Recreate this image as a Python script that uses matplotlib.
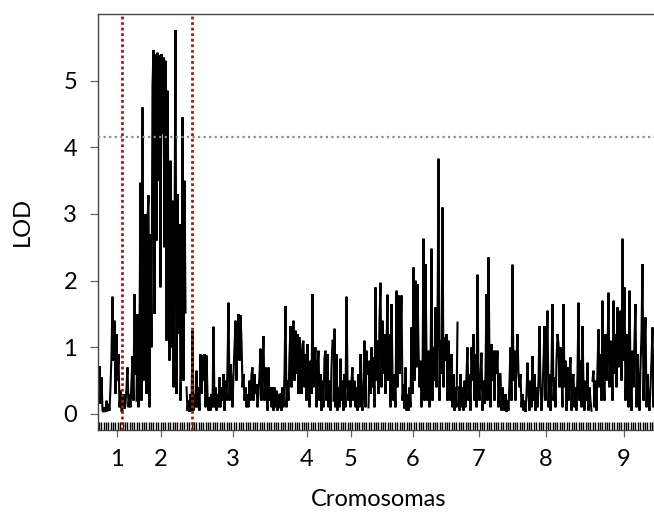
import numpy as np
import matplotlib
matplotlib.use("Agg")
import matplotlib.pyplot as plt

# LOD scan, one value per scan position, chromosome by chromosome
chrom_names = ["1", "2", "3", "4", "5", "6", "7", "8", "9"]
chrom_len = [38, 50, 94, 53, 35, 90, 42, 92, 64]
marker_counts = [16, 21, 40, 23, 15, 38, 18, 39, 27]

lod_chr1 = [0.3, 0.72, 0.15, 0.55, 0.05, 0.03, 0.1, 0.03, 0.2, 0.04,
            0.15, 0.05, 0.4, 0.9, 1.76, 0.8, 1.4, 0.3, 1.2, 0.5,
            0.9, 0.1, 0.35, 0.03, 0.05, 0.3, 0.08, 0.15, 0.4, 0.7,
            0.1, 0.3, 0.1, 0.5, 0.87, 0.2, 1.8, 0.6]
lod_chr2 = [0.2, 1.5, 0.1, 1.2, 3.47, 0.2, 4.6, 0.5, 2.0, 3.0,
            0.3, 2.9, 3.28, 0.1, 2.7, 1.0, 4.93, 5.46, 1.5, 5.4,
            2.6, 5.42, 3.5, 5.38, 1.9, 5.4, 4.2, 5.35, 2.5, 5.3,
            1.1, 4.85, 3.0, 0.8, 3.8, 1.0, 3.2, 0.4, 2.6, 5.76,
            0.3, 3.3, 1.2, 2.85, 0.2, 1.0, 4.45, 0.5, 3.5, 1.52]
lod_chr3 = [0.4, 0.05, 0.2, 0.03, 0.3, 0.05, 1.25, 0.05, 0.3, 0.1,
            0.65, 0.1, 0.4, 0.05, 0.9, 0.3, 0.88, 0.5, 0.9, 0.1,
            0.88, 0.3, 0.05, 0.25, 0.05, 0.3, 0.1, 1.31, 0.1, 0.4,
            0.05, 0.3, 0.1, 0.55, 0.1, 0.4, 0.2, 0.6, 0.05, 0.5,
            0.2, 0.7, 1.67, 0.2, 0.75, 0.5, 0.1, 0.6, 1.0, 1.4,
            0.5, 1.2, 1.5, 0.8, 1.48, 1.1, 0.4, 0.6, 0.2, 0.4,
            0.1, 0.3, 0.1, 0.5, 0.2, 0.6, 0.7, 0.2, 0.6, 0.3,
            0.45, 0.1, 0.3, 0.6, 0.98, 0.2, 0.7, 1.17, 0.2, 0.7,
            0.4, 0.05, 0.7, 0.2, 0.4, 0.1, 0.4, 0.05, 0.4, 0.1,
            0.35, 0.05, 0.3, 0.1]
lod_chr4 = [0.3, 0.05, 0.4, 0.1, 0.6, 1.62, 0.1, 0.5, 0.2, 0.9,
            1.32, 0.4, 1.0, 1.4, 0.5, 1.25, 0.6, 1.2, 0.3, 1.15,
            0.9, 0.3, 1.05, 1.1, 0.4, 0.9, 0.2, 1.05, 0.5, 0.1,
            0.8, 0.3, 1.8, 0.4, 0.8, 1.0, 0.1, 0.7, 0.95, 0.2,
            0.6, 0.05, 0.5, 0.1, 0.85, 0.95, 0.2, 0.9, 0.1, 0.5,
            0.05, 0.7, 1.1]
lod_chr5 = [0.2, 1.28, 0.1, 0.9, 0.05, 0.4, 0.1, 0.83, 0.2, 0.5,
            0.05, 0.6, 0.1, 1.76, 0.5, 0.2, 0.5, 0.1, 0.5, 0.7,
            0.2, 0.5, 0.1, 0.4, 0.05, 0.6, 0.1, 0.9, 0.2, 0.05,
            0.5, 1.1, 0.1, 0.95, 0.6]
lod_chr6 = [0.1, 0.8, 0.3, 1.0, 0.4, 0.85, 0.1, 1.9, 0.5, 1.1,
            0.3, 1.4, 1.97, 0.4, 1.4, 0.6, 1.2, 0.3, 1.0, 1.79,
            0.5, 1.2, 0.1, 1.65, 0.6, 0.2, 0.6, 0.1, 1.85, 0.4,
            1.78, 0.6, 1.2, 1.78, 0.2, 0.45, 0.08, 0.7, 0.05, 0.3,
            0.05, 0.4, 0.1, 1.3, 0.3, 2.2, 0.5, 2.0, 0.7, 1.95,
            1.0, 0.4, 0.8, 0.1, 0.55, 2.63, 0.2, 2.25, 0.9, 0.2,
            0.95, 0.1, 0.6, 2.48, 0.2, 1.0, 0.5, 1.6, 0.4, 1.3,
            3.83, 0.2, 1.1, 0.6, 3.1, 0.4, 1.15, 0.8, 1.2, 0.2,
            1.1, 0.7, 0.2, 0.9, 0.1, 0.6, 0.05, 0.4, 0.1, 1.37]
lod_chr7 = [0.4, 0.05, 0.6, 0.1, 0.4, 0.05, 0.5, 0.1, 0.6, 1.0,
            0.2, 0.6, 0.05, 1.0, 0.5, 1.2, 0.2, 0.9, 0.1, 2.09,
            0.45, 0.2, 0.6, 0.92, 0.05, 0.5, 0.15, 0.6, 1.8, 0.2,
            2.35, 0.8, 0.1, 1.05, 0.5, 0.95, 0.2, 0.95, 0.6, 0.95,
            0.1, 0.6]
lod_chr8 = [0.6, 0.05, 0.4, 0.2, 0.05, 0.3, 0.03, 0.2, 0.05, 0.5,
            1.0, 0.2, 2.24, 0.5, 0.95, 0.2, 0.8, 1.2, 0.6, 0.4,
            0.6, 0.1, 0.3, 0.05, 0.2, 0.03, 0.3, 0.77, 0.3, 0.05,
            0.5, 0.1, 0.87, 0.2, 0.6, 0.05, 0.4, 0.1, 0.5, 1.32,
            0.4, 0.05, 0.3, 0.8, 1.32, 0.2, 0.9, 1.55, 0.1, 0.6,
            0.05, 0.7, 1.65, 0.2, 0.55, 0.1, 0.8, 1.2, 1.05, 0.4,
            1.0, 0.6, 0.1, 1.65, 0.4, 0.8, 0.05, 0.7, 0.2, 0.6,
            0.85, 0.05, 0.5, 0.6, 0.1, 0.4, 0.05, 0.6, 1.67, 0.2,
            0.8, 0.1, 1.32, 0.4, 0.05, 0.5, 0.2, 0.77, 0.05, 0.4,
            0.2, 0.05]
lod_chr9 = [0.5, 0.65, 0.1, 0.5, 0.05, 0.7, 1.27, 0.4, 0.9, 0.2,
            1.7, 0.6, 0.2, 1.2, 0.5, 0.9, 1.82, 0.4, 1.1, 1.0,
            0.2, 1.7, 0.6, 1.2, 0.4, 1.6, 0.7, 1.1, 1.55, 0.5,
            2.63, 0.8, 1.9, 0.2, 1.0, 1.2, 0.1, 1.85, 0.6, 0.05,
            0.95, 0.4, 1.1, 1.65, 0.1, 0.9, 0.5, 0.05, 0.7, 1.2,
            2.25, 0.2, 1.0, 1.45, 0.1, 0.6, 0.2, 0.05, 0.4, 0.8,
            1.3, 0.1, 0.9, 0.3]
lod_by_chr = [lod_chr1, lod_chr2, lod_chr3, lod_chr4, lod_chr5,
              lod_chr6, lod_chr7, lod_chr8, lod_chr9]

threshold = 4.15
ci_bounds = [23.7, 93.7]   # support interval on chromosome 2

W, H = 654, 512
fig = plt.figure(figsize=(W / 100, H / 100), dpi=100)
ax = fig.add_axes([98 / W, 82 / H, 562 / W, 416 / H])

starts = np.concatenate([[0], np.cumsum(chrom_len)[:-1]])
mids = starts + np.array(chrom_len) / 2

for s, L, lod, nm in zip(starts, chrom_len, lod_by_chr, marker_counts):
    pos = s + np.linspace(0, L, len(lod), endpoint=False) + 0.5
    ax.plot(pos, lod, color="black", lw=1.5, solid_joinstyle="miter", zorder=2)
    rug = s + np.linspace(0, L, nm, endpoint=False) + 0.8
    ax.vlines(rug, -0.24, -0.12, color="black", lw=1.0, zorder=2)

ax.axhline(threshold, color="#7d948c", lw=1.6, ls=(0, (1, 1.5)), zorder=3)
for b in ci_bounds:
    ax.axvline(b, color="#a3191f", lw=2.0, ls=(0, (1, 1)), zorder=4)

ax.set_xlim(0, 562)
ax.set_ylim(-0.24, 6.0)
ax.set_xticks(mids)
ax.set_xticklabels(chrom_names)
ax.set_yticks(range(0, 6))

for side in ("left", "top", "bottom"):
    ax.spines[side].set_color("#444444")
    ax.spines[side].set_linewidth(1.0)
ax.spines["right"].set_visible(False)

ax.tick_params(axis="y", length=6, width=0.9, color="#666666", pad=9,
               labelsize=17)
ax.tick_params(axis="x", length=5, width=0.9, color="#666666", pad=9,
               labelsize=17)
for lab in ax.get_xticklabels() + ax.get_yticklabels():
    lab.set_fontfamily("Lato")

ax.set_ylabel("LOD", fontsize=17, fontfamily="Lato", labelpad=22)
ax.set_xlabel("Cromosomas", fontsize=17, fontfamily="Lato", labelpad=13)

fig.savefig("out.png", dpi=100)
